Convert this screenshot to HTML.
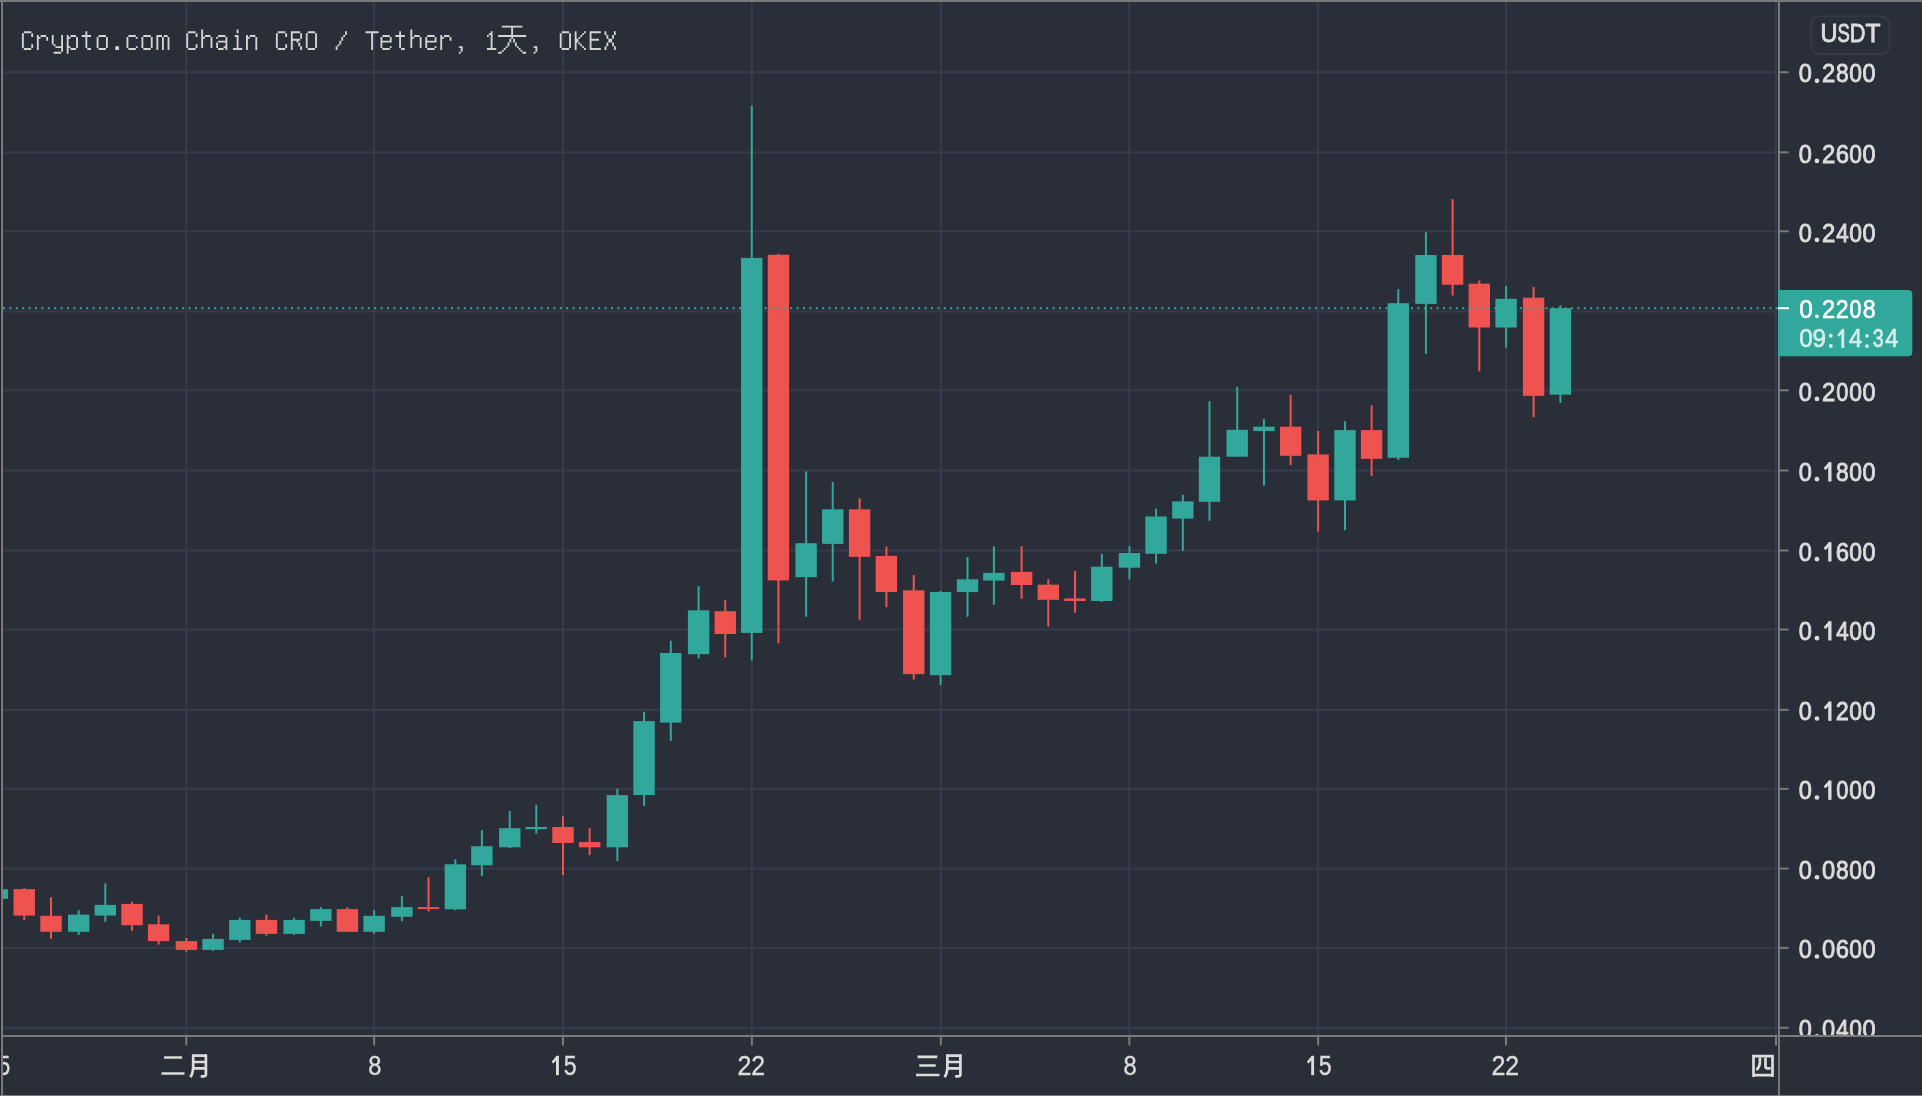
<!DOCTYPE html>
<html><head><meta charset="utf-8"><style>
html,body{margin:0;padding:0;background:#2a2e39;width:1922px;height:1096px;overflow:hidden}
svg{display:block;will-change:transform}
text{white-space:pre}
</style></head><body>
<svg width="1922" height="1096" viewBox="0 0 1922 1096">
<rect x="0" y="0" width="1922" height="1096" fill="#2a2e39"/>

<defs><clipPath id="plot"><rect x="3" y="2" width="1775" height="1033"/></clipPath><clipPath id="paxis"><rect x="1780" y="2" width="142" height="1033"/></clipPath></defs>
<g clip-path="url(#plot)">
<rect x="3" y="71.2" width="1775" height="2" fill="#363c4e"/>
<rect x="3" y="151.3" width="1775" height="2" fill="#363c4e"/>
<rect x="3" y="230.3" width="1775" height="2" fill="#363c4e"/>
<rect x="3" y="310.6" width="1775" height="2" fill="#363c4e"/>
<rect x="3" y="389.3" width="1775" height="2" fill="#363c4e"/>
<rect x="3" y="469.5" width="1775" height="2" fill="#363c4e"/>
<rect x="3" y="549.5" width="1775" height="2" fill="#363c4e"/>
<rect x="3" y="628.5" width="1775" height="2" fill="#363c4e"/>
<rect x="3" y="708.85" width="1775" height="2" fill="#363c4e"/>
<rect x="3" y="787.85" width="1775" height="2" fill="#363c4e"/>
<rect x="3" y="867.6" width="1775" height="2" fill="#363c4e"/>
<rect x="3" y="946.85" width="1775" height="2" fill="#363c4e"/>
<rect x="3" y="1026.76" width="1775" height="2" fill="#363c4e"/>
<rect x="185.33" y="2" width="2" height="1033" fill="#363c4e"/>
<rect x="373.15" y="2" width="2" height="1033" fill="#363c4e"/>
<rect x="561.96" y="2" width="2" height="1033" fill="#363c4e"/>
<rect x="750.87" y="2" width="2" height="1033" fill="#363c4e"/>
<rect x="939.78" y="2" width="2" height="1033" fill="#363c4e"/>
<rect x="1128.33" y="2" width="2" height="1033" fill="#363c4e"/>
<rect x="1317.15" y="2" width="2" height="1033" fill="#363c4e"/>
<rect x="1504.96" y="2" width="2" height="1033" fill="#363c4e"/>
<rect x="1775" y="2" width="2" height="1033" fill="#363c4e"/>
<rect x="-3.6" y="889.3" width="2" height="9.5" fill="#31a89b"/>
<rect x="-13.3" y="889.3" width="21.4" height="9.5" fill="#31a89b"/>
<rect x="23.25" y="888.1" width="2" height="31.8" fill="#ef5350"/>
<rect x="13.55" y="889.1" width="21.4" height="26.5" fill="#ef5350"/>
<rect x="50" y="897.2" width="2" height="41.7" fill="#ef5350"/>
<rect x="40.3" y="915.8" width="21.4" height="16" fill="#ef5350"/>
<rect x="77.7" y="910.2" width="2" height="24.7" fill="#31a89b"/>
<rect x="68" y="914.6" width="21.4" height="17.2" fill="#31a89b"/>
<rect x="104.3" y="883.5" width="2" height="38.3" fill="#31a89b"/>
<rect x="94.6" y="904.9" width="21.4" height="10.7" fill="#31a89b"/>
<rect x="131.05" y="901.8" width="2" height="29.1" fill="#ef5350"/>
<rect x="121.35" y="903.9" width="21.4" height="21.3" fill="#ef5350"/>
<rect x="157.6" y="915.6" width="2" height="29" fill="#ef5350"/>
<rect x="147.9" y="924.3" width="21.4" height="16.8" fill="#ef5350"/>
<rect x="185.4" y="938" width="2" height="13.8" fill="#ef5350"/>
<rect x="175.7" y="941.1" width="21.4" height="8.8" fill="#ef5350"/>
<rect x="212.05" y="933.9" width="2" height="17" fill="#31a89b"/>
<rect x="202.35" y="938.9" width="21.4" height="11" fill="#31a89b"/>
<rect x="238.8" y="917.7" width="2" height="24.7" fill="#31a89b"/>
<rect x="229.1" y="919.9" width="21.4" height="20" fill="#31a89b"/>
<rect x="265.45" y="914.6" width="2" height="21.2" fill="#ef5350"/>
<rect x="255.75" y="919.9" width="21.4" height="14" fill="#ef5350"/>
<rect x="293.15" y="917.7" width="2" height="17.2" fill="#31a89b"/>
<rect x="283.45" y="919.9" width="21.4" height="14" fill="#31a89b"/>
<rect x="319.85" y="907.1" width="2" height="19.3" fill="#31a89b"/>
<rect x="310.15" y="909.1" width="21.4" height="11.8" fill="#31a89b"/>
<rect x="346.4" y="907.1" width="2" height="24.7" fill="#ef5350"/>
<rect x="336.7" y="909.1" width="21.4" height="22.7" fill="#ef5350"/>
<rect x="373.1" y="910.2" width="2" height="23.7" fill="#31a89b"/>
<rect x="363.4" y="915.8" width="21.4" height="16" fill="#31a89b"/>
<rect x="400.9" y="896.2" width="2" height="25" fill="#31a89b"/>
<rect x="391.2" y="907.1" width="21.4" height="9.7" fill="#31a89b"/>
<rect x="427.55" y="877.1" width="2" height="34.3" fill="#ef5350"/>
<rect x="417.85" y="907.1" width="21.4" height="2" fill="#ef5350"/>
<rect x="454.35" y="859.2" width="2" height="51.1" fill="#31a89b"/>
<rect x="444.65" y="864.3" width="21.4" height="45" fill="#31a89b"/>
<rect x="480.9" y="830.2" width="2" height="45.9" fill="#31a89b"/>
<rect x="471.2" y="846.2" width="21.4" height="19.1" fill="#31a89b"/>
<rect x="508.75" y="811" width="2" height="37.3" fill="#31a89b"/>
<rect x="499.05" y="828.2" width="21.4" height="19.1" fill="#31a89b"/>
<rect x="535.3" y="804.7" width="2" height="28.9" fill="#31a89b"/>
<rect x="525.6" y="827" width="21.4" height="2.2" fill="#31a89b"/>
<rect x="562" y="816.4" width="2" height="58.8" fill="#ef5350"/>
<rect x="552.3" y="827" width="21.4" height="16" fill="#ef5350"/>
<rect x="588.65" y="828.2" width="2" height="26.9" fill="#ef5350"/>
<rect x="578.95" y="842" width="21.4" height="5.3" fill="#ef5350"/>
<rect x="616.35" y="788.7" width="2" height="72.4" fill="#31a89b"/>
<rect x="606.65" y="795.1" width="21.4" height="52.2" fill="#31a89b"/>
<rect x="643.05" y="711.9" width="2" height="94.2" fill="#31a89b"/>
<rect x="633.35" y="721.1" width="21.4" height="73.9" fill="#31a89b"/>
<rect x="669.8" y="640.7" width="2" height="100.1" fill="#31a89b"/>
<rect x="660.1" y="653" width="21.4" height="69.6" fill="#31a89b"/>
<rect x="697.6" y="586.1" width="2" height="72.4" fill="#31a89b"/>
<rect x="687.9" y="610.3" width="21.4" height="43.9" fill="#31a89b"/>
<rect x="724.25" y="599.7" width="2" height="57.6" fill="#ef5350"/>
<rect x="714.55" y="611.2" width="21.4" height="22.8" fill="#ef5350"/>
<rect x="750.75" y="105.5" width="2" height="555.1" fill="#31a89b"/>
<rect x="741.05" y="257.9" width="21.4" height="375" fill="#31a89b"/>
<rect x="777.45" y="253.9" width="2" height="389.4" fill="#ef5350"/>
<rect x="767.75" y="254.8" width="21.4" height="325.6" fill="#ef5350"/>
<rect x="805.1" y="471.4" width="2" height="145.4" fill="#31a89b"/>
<rect x="795.4" y="543.2" width="21.4" height="34" fill="#31a89b"/>
<rect x="831.75" y="481.9" width="2" height="99.6" fill="#31a89b"/>
<rect x="822.05" y="509.3" width="21.4" height="34.6" fill="#31a89b"/>
<rect x="858.6" y="498.3" width="2" height="121.5" fill="#ef5350"/>
<rect x="848.9" y="509.3" width="21.4" height="47.5" fill="#ef5350"/>
<rect x="885.4" y="546.5" width="2" height="60.6" fill="#ef5350"/>
<rect x="875.7" y="555.9" width="21.4" height="36.1" fill="#ef5350"/>
<rect x="912.75" y="574.9" width="2" height="104.7" fill="#ef5350"/>
<rect x="903.05" y="590.3" width="21.4" height="83.8" fill="#ef5350"/>
<rect x="939.6" y="590.9" width="2" height="94" fill="#31a89b"/>
<rect x="929.9" y="592" width="21.4" height="83.2" fill="#31a89b"/>
<rect x="966.5" y="557" width="2" height="59.8" fill="#31a89b"/>
<rect x="956.8" y="579.3" width="21.4" height="12.8" fill="#31a89b"/>
<rect x="992.9" y="546.3" width="2" height="58.5" fill="#31a89b"/>
<rect x="983.2" y="572.9" width="21.4" height="7.7" fill="#31a89b"/>
<rect x="1020.6" y="546.1" width="2" height="52.7" fill="#ef5350"/>
<rect x="1010.9" y="571.9" width="21.4" height="13.1" fill="#ef5350"/>
<rect x="1047.3" y="579.3" width="2" height="47.2" fill="#ef5350"/>
<rect x="1037.6" y="584.7" width="21.4" height="15.1" fill="#ef5350"/>
<rect x="1074.05" y="571" width="2" height="41.7" fill="#ef5350"/>
<rect x="1064.35" y="598.4" width="21.4" height="2.6" fill="#ef5350"/>
<rect x="1100.8" y="553.8" width="2" height="48.1" fill="#31a89b"/>
<rect x="1091.1" y="566.7" width="21.4" height="34.3" fill="#31a89b"/>
<rect x="1128.45" y="546.1" width="2" height="33.4" fill="#31a89b"/>
<rect x="1118.75" y="553" width="21.4" height="14.7" fill="#31a89b"/>
<rect x="1155.05" y="508.7" width="2" height="54.8" fill="#31a89b"/>
<rect x="1145.35" y="516.5" width="21.4" height="37.3" fill="#31a89b"/>
<rect x="1181.85" y="494.8" width="2" height="56" fill="#31a89b"/>
<rect x="1172.15" y="501.4" width="21.4" height="17.2" fill="#31a89b"/>
<rect x="1208.5" y="401.2" width="2" height="119.6" fill="#31a89b"/>
<rect x="1198.8" y="456.7" width="21.4" height="45.1" fill="#31a89b"/>
<rect x="1236.2" y="387" width="2" height="69.7" fill="#31a89b"/>
<rect x="1226.5" y="429.8" width="21.4" height="26.9" fill="#31a89b"/>
<rect x="1262.95" y="419.1" width="2" height="66.5" fill="#31a89b"/>
<rect x="1253.25" y="426.7" width="21.4" height="4.3" fill="#31a89b"/>
<rect x="1289.65" y="394.8" width="2" height="70.2" fill="#ef5350"/>
<rect x="1279.95" y="426.7" width="21.4" height="29.1" fill="#ef5350"/>
<rect x="1317.1" y="431" width="2" height="100.6" fill="#ef5350"/>
<rect x="1307.4" y="454.4" width="21.4" height="46" fill="#ef5350"/>
<rect x="1344" y="421.2" width="2" height="109" fill="#31a89b"/>
<rect x="1334.3" y="430.1" width="21.4" height="70.3" fill="#31a89b"/>
<rect x="1370.6" y="405.3" width="2" height="70.6" fill="#ef5350"/>
<rect x="1360.9" y="430.1" width="21.4" height="28.7" fill="#ef5350"/>
<rect x="1397.3" y="289.2" width="2" height="170.8" fill="#31a89b"/>
<rect x="1387.6" y="303.2" width="21.4" height="154.6" fill="#31a89b"/>
<rect x="1424.95" y="232.3" width="2" height="121.5" fill="#31a89b"/>
<rect x="1415.25" y="255" width="21.4" height="48.9" fill="#31a89b"/>
<rect x="1451.6" y="199.2" width="2" height="96.3" fill="#ef5350"/>
<rect x="1441.9" y="255" width="21.4" height="29.8" fill="#ef5350"/>
<rect x="1478.3" y="280.4" width="2" height="90.9" fill="#ef5350"/>
<rect x="1468.6" y="283.7" width="21.4" height="43.8" fill="#ef5350"/>
<rect x="1505.1" y="285.9" width="2" height="61.7" fill="#31a89b"/>
<rect x="1495.4" y="298.8" width="21.4" height="28.7" fill="#31a89b"/>
<rect x="1532.6" y="287" width="2" height="130.1" fill="#ef5350"/>
<rect x="1522.9" y="297.7" width="21.4" height="98.1" fill="#ef5350"/>
<rect x="1559.4" y="305.4" width="2" height="97.6" fill="#31a89b"/>
<rect x="1549.7" y="308.2" width="21.4" height="86.5" fill="#31a89b"/>
<line x1="3" y1="308.2" x2="1778" y2="308.2" stroke="#31a89b" stroke-width="2" stroke-dasharray="2 4.4"/>
</g>
<rect x="1778" y="2" width="2" height="1093" fill="#7a7a7a"/>
<rect x="3" y="1035" width="1919" height="2" fill="#7a7a7a"/>
<g clip-path="url(#paxis)">
<rect x="1780" y="71.2" width="8.7" height="2" fill="#7a7a7a"/>
<text transform="matrix(0.23592 0 0 0.25906 1798.819 82.488)" font-family="Liberation Sans" font-size="100" fill="#dcdcdc" stroke="#dcdcdc" stroke-width="3.5">0</text><circle cx="1816.95" cy="80.85" r="2.35" fill="#dcdcdc"/><text transform="matrix(0.23838 0 0 0.25906 1822.025 82.488)" font-family="Liberation Sans" font-size="100" fill="#dcdcdc" stroke="#dcdcdc" stroke-width="3.5">2</text><text transform="matrix(0.22772 0 0 0.25906 1835.988 82.488)" font-family="Liberation Sans" font-size="100" fill="#dcdcdc" stroke="#dcdcdc" stroke-width="3.5">8</text><text transform="matrix(0.22816 0 0 0.25906 1849.237 82.488)" font-family="Liberation Sans" font-size="100" fill="#dcdcdc" stroke="#dcdcdc" stroke-width="3.5">0</text><text transform="matrix(0.23398 0 0 0.25906 1862.624 82.488)" font-family="Liberation Sans" font-size="100" fill="#dcdcdc" stroke="#dcdcdc" stroke-width="3.5">0</text>
<rect x="1780" y="151.3" width="8.7" height="2" fill="#7a7a7a"/>
<text transform="matrix(0.23592 0 0 0.25906 1798.819 162.588)" font-family="Liberation Sans" font-size="100" fill="#dcdcdc" stroke="#dcdcdc" stroke-width="3.5">0</text><circle cx="1816.95" cy="160.95" r="2.35" fill="#dcdcdc"/><text transform="matrix(0.23838 0 0 0.25906 1822.025 162.588)" font-family="Liberation Sans" font-size="100" fill="#dcdcdc" stroke="#dcdcdc" stroke-width="3.5">2</text><text transform="matrix(0.23838 0 0 0.25906 1835.625 162.588)" font-family="Liberation Sans" font-size="100" fill="#dcdcdc" stroke="#dcdcdc" stroke-width="3.5">6</text><text transform="matrix(0.22816 0 0 0.25906 1849.237 162.588)" font-family="Liberation Sans" font-size="100" fill="#dcdcdc" stroke="#dcdcdc" stroke-width="3.5">0</text><text transform="matrix(0.23398 0 0 0.25906 1862.624 162.588)" font-family="Liberation Sans" font-size="100" fill="#dcdcdc" stroke="#dcdcdc" stroke-width="3.5">0</text>
<rect x="1780" y="230.3" width="8.7" height="2" fill="#7a7a7a"/>
<text transform="matrix(0.23592 0 0 0.25906 1798.819 241.588)" font-family="Liberation Sans" font-size="100" fill="#dcdcdc" stroke="#dcdcdc" stroke-width="3.5">0</text><circle cx="1816.95" cy="239.95" r="2.35" fill="#dcdcdc"/><text transform="matrix(0.23838 0 0 0.25906 1822.025 241.588)" font-family="Liberation Sans" font-size="100" fill="#dcdcdc" stroke="#dcdcdc" stroke-width="3.5">2</text><text transform="matrix(0.22385 0 0 0.25906 1836.144 241.588)" font-family="Liberation Sans" font-size="100" fill="#dcdcdc" stroke="#dcdcdc" stroke-width="3.5">4</text><text transform="matrix(0.22816 0 0 0.25906 1849.237 241.588)" font-family="Liberation Sans" font-size="100" fill="#dcdcdc" stroke="#dcdcdc" stroke-width="3.5">0</text><text transform="matrix(0.23398 0 0 0.25906 1862.624 241.588)" font-family="Liberation Sans" font-size="100" fill="#dcdcdc" stroke="#dcdcdc" stroke-width="3.5">0</text>
<rect x="1780" y="389.3" width="8.7" height="2" fill="#7a7a7a"/>
<text transform="matrix(0.23592 0 0 0.25906 1798.819 400.588)" font-family="Liberation Sans" font-size="100" fill="#dcdcdc" stroke="#dcdcdc" stroke-width="3.5">0</text><circle cx="1816.95" cy="398.95" r="2.35" fill="#dcdcdc"/><text transform="matrix(0.23838 0 0 0.25906 1822.025 400.588)" font-family="Liberation Sans" font-size="100" fill="#dcdcdc" stroke="#dcdcdc" stroke-width="3.5">2</text><text transform="matrix(0.21748 0 0 0.25906 1836.311 400.588)" font-family="Liberation Sans" font-size="100" fill="#dcdcdc" stroke="#dcdcdc" stroke-width="3.5">0</text><text transform="matrix(0.22816 0 0 0.25906 1849.237 400.588)" font-family="Liberation Sans" font-size="100" fill="#dcdcdc" stroke="#dcdcdc" stroke-width="3.5">0</text><text transform="matrix(0.23398 0 0 0.25906 1862.624 400.588)" font-family="Liberation Sans" font-size="100" fill="#dcdcdc" stroke="#dcdcdc" stroke-width="3.5">0</text>
<rect x="1780" y="469.5" width="8.7" height="2" fill="#7a7a7a"/>
<text transform="matrix(0.23592 0 0 0.25906 1798.819 480.788)" font-family="Liberation Sans" font-size="100" fill="#dcdcdc" stroke="#dcdcdc" stroke-width="3.5">0</text><circle cx="1816.95" cy="479.15" r="2.35" fill="#dcdcdc"/><path d="M1829.85,462.20 V481.50" stroke="#dcdcdc" stroke-width="3.3" fill="none"/><path d="M1829.52,463.80 L1825.45,468.18" stroke="#dcdcdc" stroke-width="2.90" stroke-linecap="round" fill="none"/><text transform="matrix(0.22772 0 0 0.25906 1835.988 480.788)" font-family="Liberation Sans" font-size="100" fill="#dcdcdc" stroke="#dcdcdc" stroke-width="3.5">8</text><text transform="matrix(0.22816 0 0 0.25906 1849.237 480.788)" font-family="Liberation Sans" font-size="100" fill="#dcdcdc" stroke="#dcdcdc" stroke-width="3.5">0</text><text transform="matrix(0.23398 0 0 0.25906 1862.624 480.788)" font-family="Liberation Sans" font-size="100" fill="#dcdcdc" stroke="#dcdcdc" stroke-width="3.5">0</text>
<rect x="1780" y="549.5" width="8.7" height="2" fill="#7a7a7a"/>
<text transform="matrix(0.23592 0 0 0.25906 1798.819 560.788)" font-family="Liberation Sans" font-size="100" fill="#dcdcdc" stroke="#dcdcdc" stroke-width="3.5">0</text><circle cx="1816.95" cy="559.15" r="2.35" fill="#dcdcdc"/><path d="M1829.85,542.20 V561.50" stroke="#dcdcdc" stroke-width="3.3" fill="none"/><path d="M1829.52,543.80 L1825.45,548.18" stroke="#dcdcdc" stroke-width="2.90" stroke-linecap="round" fill="none"/><text transform="matrix(0.23838 0 0 0.25906 1835.625 560.788)" font-family="Liberation Sans" font-size="100" fill="#dcdcdc" stroke="#dcdcdc" stroke-width="3.5">6</text><text transform="matrix(0.22816 0 0 0.25906 1849.237 560.788)" font-family="Liberation Sans" font-size="100" fill="#dcdcdc" stroke="#dcdcdc" stroke-width="3.5">0</text><text transform="matrix(0.23398 0 0 0.25906 1862.624 560.788)" font-family="Liberation Sans" font-size="100" fill="#dcdcdc" stroke="#dcdcdc" stroke-width="3.5">0</text>
<rect x="1780" y="628.5" width="8.7" height="2" fill="#7a7a7a"/>
<text transform="matrix(0.23592 0 0 0.25906 1798.819 639.788)" font-family="Liberation Sans" font-size="100" fill="#dcdcdc" stroke="#dcdcdc" stroke-width="3.5">0</text><circle cx="1816.95" cy="638.15" r="2.35" fill="#dcdcdc"/><path d="M1829.85,621.20 V640.50" stroke="#dcdcdc" stroke-width="3.3" fill="none"/><path d="M1829.52,622.80 L1825.45,627.18" stroke="#dcdcdc" stroke-width="2.90" stroke-linecap="round" fill="none"/><text transform="matrix(0.22385 0 0 0.25906 1836.144 639.788)" font-family="Liberation Sans" font-size="100" fill="#dcdcdc" stroke="#dcdcdc" stroke-width="3.5">4</text><text transform="matrix(0.22816 0 0 0.25906 1849.237 639.788)" font-family="Liberation Sans" font-size="100" fill="#dcdcdc" stroke="#dcdcdc" stroke-width="3.5">0</text><text transform="matrix(0.23398 0 0 0.25906 1862.624 639.788)" font-family="Liberation Sans" font-size="100" fill="#dcdcdc" stroke="#dcdcdc" stroke-width="3.5">0</text>
<rect x="1780" y="708.85" width="8.7" height="2" fill="#7a7a7a"/>
<text transform="matrix(0.23592 0 0 0.25906 1798.819 720.138)" font-family="Liberation Sans" font-size="100" fill="#dcdcdc" stroke="#dcdcdc" stroke-width="3.5">0</text><circle cx="1816.95" cy="718.50" r="2.35" fill="#dcdcdc"/><path d="M1829.85,701.55 V720.85" stroke="#dcdcdc" stroke-width="3.3" fill="none"/><path d="M1829.52,703.15 L1825.45,707.53" stroke="#dcdcdc" stroke-width="2.90" stroke-linecap="round" fill="none"/><text transform="matrix(0.23434 0 0 0.25906 1835.738 720.138)" font-family="Liberation Sans" font-size="100" fill="#dcdcdc" stroke="#dcdcdc" stroke-width="3.5">2</text><text transform="matrix(0.22816 0 0 0.25906 1849.237 720.138)" font-family="Liberation Sans" font-size="100" fill="#dcdcdc" stroke="#dcdcdc" stroke-width="3.5">0</text><text transform="matrix(0.23398 0 0 0.25906 1862.624 720.138)" font-family="Liberation Sans" font-size="100" fill="#dcdcdc" stroke="#dcdcdc" stroke-width="3.5">0</text>
<rect x="1780" y="787.85" width="8.7" height="2" fill="#7a7a7a"/>
<text transform="matrix(0.23592 0 0 0.25906 1798.819 799.138)" font-family="Liberation Sans" font-size="100" fill="#dcdcdc" stroke="#dcdcdc" stroke-width="3.5">0</text><circle cx="1816.95" cy="797.50" r="2.35" fill="#dcdcdc"/><path d="M1829.85,780.55 V799.85" stroke="#dcdcdc" stroke-width="3.3" fill="none"/><path d="M1829.52,782.15 L1825.45,786.53" stroke="#dcdcdc" stroke-width="2.90" stroke-linecap="round" fill="none"/><text transform="matrix(0.21748 0 0 0.25906 1836.311 799.138)" font-family="Liberation Sans" font-size="100" fill="#dcdcdc" stroke="#dcdcdc" stroke-width="3.5">0</text><text transform="matrix(0.22816 0 0 0.25906 1849.237 799.138)" font-family="Liberation Sans" font-size="100" fill="#dcdcdc" stroke="#dcdcdc" stroke-width="3.5">0</text><text transform="matrix(0.23398 0 0 0.25906 1862.624 799.138)" font-family="Liberation Sans" font-size="100" fill="#dcdcdc" stroke="#dcdcdc" stroke-width="3.5">0</text>
<rect x="1780" y="867.6" width="8.7" height="2" fill="#7a7a7a"/>
<text transform="matrix(0.23592 0 0 0.25906 1798.819 878.888)" font-family="Liberation Sans" font-size="100" fill="#dcdcdc" stroke="#dcdcdc" stroke-width="3.5">0</text><circle cx="1816.95" cy="877.25" r="2.35" fill="#dcdcdc"/><text transform="matrix(0.23689 0 0 0.25906 1822.067 878.888)" font-family="Liberation Sans" font-size="100" fill="#dcdcdc" stroke="#dcdcdc" stroke-width="3.5">0</text><text transform="matrix(0.22772 0 0 0.25906 1835.988 878.888)" font-family="Liberation Sans" font-size="100" fill="#dcdcdc" stroke="#dcdcdc" stroke-width="3.5">8</text><text transform="matrix(0.22816 0 0 0.25906 1849.237 878.888)" font-family="Liberation Sans" font-size="100" fill="#dcdcdc" stroke="#dcdcdc" stroke-width="3.5">0</text><text transform="matrix(0.23398 0 0 0.25906 1862.624 878.888)" font-family="Liberation Sans" font-size="100" fill="#dcdcdc" stroke="#dcdcdc" stroke-width="3.5">0</text>
<rect x="1780" y="946.85" width="8.7" height="2" fill="#7a7a7a"/>
<text transform="matrix(0.23592 0 0 0.25906 1798.819 958.138)" font-family="Liberation Sans" font-size="100" fill="#dcdcdc" stroke="#dcdcdc" stroke-width="3.5">0</text><circle cx="1816.95" cy="956.50" r="2.35" fill="#dcdcdc"/><text transform="matrix(0.23689 0 0 0.25906 1822.067 958.138)" font-family="Liberation Sans" font-size="100" fill="#dcdcdc" stroke="#dcdcdc" stroke-width="3.5">0</text><text transform="matrix(0.23838 0 0 0.25906 1835.625 958.138)" font-family="Liberation Sans" font-size="100" fill="#dcdcdc" stroke="#dcdcdc" stroke-width="3.5">6</text><text transform="matrix(0.22816 0 0 0.25906 1849.237 958.138)" font-family="Liberation Sans" font-size="100" fill="#dcdcdc" stroke="#dcdcdc" stroke-width="3.5">0</text><text transform="matrix(0.23398 0 0 0.25906 1862.624 958.138)" font-family="Liberation Sans" font-size="100" fill="#dcdcdc" stroke="#dcdcdc" stroke-width="3.5">0</text>
<rect x="1780" y="1026.76" width="8.7" height="2" fill="#7a7a7a"/>
<text transform="matrix(0.23592 0 0 0.25906 1798.819 1038.048)" font-family="Liberation Sans" font-size="100" fill="#dcdcdc" stroke="#dcdcdc" stroke-width="3.5">0</text><circle cx="1816.95" cy="1036.41" r="2.35" fill="#dcdcdc"/><text transform="matrix(0.23689 0 0 0.25906 1822.067 1038.048)" font-family="Liberation Sans" font-size="100" fill="#dcdcdc" stroke="#dcdcdc" stroke-width="3.5">0</text><text transform="matrix(0.22385 0 0 0.25906 1836.144 1038.048)" font-family="Liberation Sans" font-size="100" fill="#dcdcdc" stroke="#dcdcdc" stroke-width="3.5">4</text><text transform="matrix(0.22816 0 0 0.25906 1849.237 1038.048)" font-family="Liberation Sans" font-size="100" fill="#dcdcdc" stroke="#dcdcdc" stroke-width="3.5">0</text><text transform="matrix(0.23398 0 0 0.25906 1862.624 1038.048)" font-family="Liberation Sans" font-size="100" fill="#dcdcdc" stroke="#dcdcdc" stroke-width="3.5">0</text>
</g>
<rect x="185.33" y="1037" width="2" height="8.6" fill="#7a7a7a"/>
<rect x="373.15" y="1037" width="2" height="8.6" fill="#7a7a7a"/>
<rect x="561.96" y="1037" width="2" height="8.6" fill="#7a7a7a"/>
<rect x="750.87" y="1037" width="2" height="8.6" fill="#7a7a7a"/>
<rect x="939.78" y="1037" width="2" height="8.6" fill="#7a7a7a"/>
<rect x="1128.33" y="1037" width="2" height="8.6" fill="#7a7a7a"/>
<rect x="1317.15" y="1037" width="2" height="8.6" fill="#7a7a7a"/>
<rect x="1504.96" y="1037" width="2" height="8.6" fill="#7a7a7a"/>
<rect x="1775" y="1037" width="2" height="8.6" fill="#7a7a7a"/>
<text transform="matrix(0.23711 0 0 0.26759 368.229 1074.732)" font-family="Liberation Sans" font-size="100" fill="#dcdcdc" stroke="#dcdcdc" stroke-width="1.5">8</text>
<path d="M557.45,1055.80 V1075.20" stroke="#dcdcdc" stroke-width="2.9" fill="none"/><path d="M557.16,1057.20 L553.18,1061.81" stroke="#dcdcdc" stroke-width="2.55" stroke-linecap="round" fill="none"/><text transform="matrix(0.23093 0 0 0.26759 563.649 1074.732)" font-family="Liberation Sans" font-size="100" fill="#dcdcdc" stroke="#dcdcdc" stroke-width="1.5">5</text>
<text transform="matrix(0.25053 0 0 0.26759 737.435 1074.732)" font-family="Liberation Sans" font-size="100" fill="#dcdcdc" stroke="#dcdcdc" stroke-width="1.5">2</text><text transform="matrix(0.24842 0 0 0.26759 751.244 1074.732)" font-family="Liberation Sans" font-size="100" fill="#dcdcdc" stroke="#dcdcdc" stroke-width="1.5">2</text>
<text transform="matrix(0.23711 0 0 0.26759 1123.409 1074.732)" font-family="Liberation Sans" font-size="100" fill="#dcdcdc" stroke="#dcdcdc" stroke-width="1.5">8</text>
<path d="M1312.64,1055.80 V1075.20" stroke="#dcdcdc" stroke-width="2.9" fill="none"/><path d="M1312.35,1057.20 L1308.37,1061.81" stroke="#dcdcdc" stroke-width="2.55" stroke-linecap="round" fill="none"/><text transform="matrix(0.23093 0 0 0.26759 1318.839 1074.732)" font-family="Liberation Sans" font-size="100" fill="#dcdcdc" stroke="#dcdcdc" stroke-width="1.5">5</text>
<text transform="matrix(0.25053 0 0 0.26759 1491.525 1074.732)" font-family="Liberation Sans" font-size="100" fill="#dcdcdc" stroke="#dcdcdc" stroke-width="1.5">2</text><text transform="matrix(0.24842 0 0 0.26759 1505.334 1074.732)" font-family="Liberation Sans" font-size="100" fill="#dcdcdc" stroke="#dcdcdc" stroke-width="1.5">2</text>
<text transform="matrix(0.25053 0 0 0.26759 -16.915 1074.732)" font-family="Liberation Sans" font-size="100" fill="#dcdcdc" stroke="#dcdcdc" stroke-width="1.5">2</text><text transform="matrix(0.22474 0 0 0.26759 -2.210 1074.732)" font-family="Liberation Sans" font-size="100" fill="#dcdcdc" stroke="#dcdcdc" stroke-width="1.5">5</text>
<g fill="none" stroke="#dcdcdc" stroke-width="2.7">
<path d="M164.1,1057.5 H182.1 M161.5,1073.5 H184.5"/>
<path d="M193.2,1054.3 V1066 Q193.2,1073.5 190.3,1077.2" /><path d="M193.2,1055.6 H205.9 M193.2,1062 H205.9 M193.2,1068.4 H205.9" /><path d="M205.9,1054.3 V1074.6 Q205.9,1076.3 204.1,1076.3 H200.7" />
<path d="M917.6,1056.8 H937.3 M919.2,1065.5 H935.7 M916,1075 H939.5"/>
<path d="M947.4,1054.3 V1066 Q947.4,1073.5 944.5,1077.2" /><path d="M947.4,1055.6 H960.4 M947.4,1062 H960.4 M947.4,1068.4 H960.4" /><path d="M960.4,1054.3 V1074.6 Q960.4,1076.3 958.6,1076.3 H955.2" />
<path d="M1753.5,1054.9 V1077 M1772.5,1054.9 V1077 M1752.2,1056.1 H1773.8 M1753.5,1075.2 H1772.5"/>
<path d="M1759.9,1057.4 V1062.5 Q1759.6,1067.5 1756.4,1070"/>
<path d="M1765.5,1057.4 V1066.6 Q1765.5,1068.4 1767.5,1068.4 H1770.7"/>
</g>
<rect x="1811.4" y="16.2" width="78.1" height="37.8" rx="8" ry="8" fill="none" stroke="#363a45" stroke-width="2"/>
<text transform="matrix(0.23529 0 0 0.26174 1820.429 42.080)" font-family="Liberation Sans" font-size="100" fill="#dcdcdc" stroke="#dcdcdc" stroke-width="3.5">U</text><text transform="matrix(0.18512 0 0 0.26174 1837.398 42.080)" font-family="Liberation Sans" font-size="100" fill="#dcdcdc" stroke="#dcdcdc" stroke-width="3.5">S</text><text transform="matrix(0.21760 0 0 0.26174 1849.840 42.080)" font-family="Liberation Sans" font-size="100" fill="#dcdcdc" stroke="#dcdcdc" stroke-width="3.5">D</text><text transform="matrix(0.24463 0 0 0.26174 1865.539 42.080)" font-family="Liberation Sans" font-size="100" fill="#dcdcdc" stroke="#dcdcdc" stroke-width="3.5">T</text>
<path d="M1778,289.9 H1908.3 Q1912.3,289.9 1912.3,293.9 V352.3 Q1912.3,356.3 1908.3,356.3 H1778 Z" fill="#31a89b"/>
<rect x="1778" y="307.2" width="11" height="2" fill="#ffffff"/>
<text transform="matrix(0.24356 0 0 0.25714 1799.230 317.621)" font-family="Liberation Sans" font-size="100" fill="#ffffff" stroke="#ffffff" stroke-width="2.5">0</text><circle cx="1816.90" cy="316.30" r="1.90" fill="#ffffff"/><text transform="matrix(0.23711 0 0 0.25714 1822.111 317.621)" font-family="Liberation Sans" font-size="100" fill="#ffffff" stroke="#ffffff" stroke-width="2.5">2</text><text transform="matrix(0.23093 0 0 0.25714 1835.634 317.621)" font-family="Liberation Sans" font-size="100" fill="#ffffff" stroke="#ffffff" stroke-width="2.5">2</text><text transform="matrix(0.21386 0 0 0.25714 1849.412 317.621)" font-family="Liberation Sans" font-size="100" fill="#ffffff" stroke="#ffffff" stroke-width="2.5">0</text><text transform="matrix(0.23232 0 0 0.25714 1862.761 317.621)" font-family="Liberation Sans" font-size="100" fill="#ffffff" stroke="#ffffff" stroke-width="2.5">8</text>
<text transform="matrix(0.24356 0 0 0.25714 1799.230 347.421)" font-family="Liberation Sans" font-size="100" fill="#d4eeeb" stroke="#d4eeeb" stroke-width="2.5">0</text><text transform="matrix(0.24330 0 0 0.25714 1812.388 347.421)" font-family="Liberation Sans" font-size="100" fill="#d4eeeb" stroke="#d4eeeb" stroke-width="2.5">9</text><circle cx="1830.80" cy="346.00" r="2.00" fill="#d4eeeb"/><circle cx="1830.80" cy="335.64" r="2.00" fill="#d4eeeb"/><path d="M1842.80,329.10 V348.00" stroke="#d4eeeb" stroke-width="2.8" fill="none"/><path d="M1842.52,330.46 L1838.83,334.96" stroke="#d4eeeb" stroke-width="2.46" stroke-linecap="round" fill="none"/><text transform="matrix(0.23551 0 0 0.25714 1848.923 347.421)" font-family="Liberation Sans" font-size="100" fill="#d4eeeb" stroke="#d4eeeb" stroke-width="2.5">4</text><circle cx="1866.95" cy="346.15" r="1.85" fill="#d4eeeb"/><circle cx="1866.95" cy="335.79" r="1.85" fill="#d4eeeb"/><text transform="matrix(0.19798 0 0 0.25714 1872.856 347.421)" font-family="Liberation Sans" font-size="100" fill="#d4eeeb" stroke="#d4eeeb" stroke-width="2.5">3</text><text transform="matrix(0.23551 0 0 0.25714 1885.223 347.421)" font-family="Liberation Sans" font-size="100" fill="#d4eeeb" stroke="#d4eeeb" stroke-width="2.5">4</text>
<path d="M23.79,31.30h7.47v1.87h-7.47zM21.93,33.17h1.87v1.87h-1.87zM31.27,33.17h1.87v1.87h-1.87zM21.93,35.04h1.87v1.87h-1.87zM31.27,35.04h1.87v1.87h-1.87zM21.93,36.90h1.87v1.87h-1.87zM21.93,38.77h1.87v1.87h-1.87zM21.93,40.64h1.87v1.87h-1.87zM21.93,42.51h1.87v1.87h-1.87zM21.93,44.37h1.87v1.87h-1.87zM31.27,44.37h1.87v1.87h-1.87zM21.93,46.24h1.87v1.87h-1.87zM31.27,46.24h1.87v1.87h-1.87zM23.79,48.11h7.47v1.87h-7.47zM36.87,35.04h1.87v1.87h-1.87zM40.60,35.04h5.60v1.87h-5.60zM36.87,36.90h3.73v1.87h-3.73zM46.20,36.90h1.87v1.87h-1.87zM36.87,38.77h1.87v1.87h-1.87zM46.20,38.77h1.87v1.87h-1.87zM36.87,40.64h1.87v1.87h-1.87zM36.87,42.51h1.87v1.87h-1.87zM36.87,44.37h1.87v1.87h-1.87zM36.87,46.24h1.87v1.87h-1.87zM36.87,48.11h1.87v1.87h-1.87zM51.81,35.04h1.87v1.87h-1.87zM61.14,35.04h1.87v1.87h-1.87zM51.81,36.90h1.87v1.87h-1.87zM61.14,36.90h1.87v1.87h-1.87zM51.81,38.77h1.87v1.87h-1.87zM61.14,38.77h1.87v1.87h-1.87zM51.81,40.64h1.87v1.87h-1.87zM61.14,40.64h1.87v1.87h-1.87zM51.81,42.51h1.87v1.87h-1.87zM61.14,42.51h1.87v1.87h-1.87zM53.67,44.37h1.87v1.87h-1.87zM61.14,44.37h1.87v1.87h-1.87zM55.54,46.24h7.47v1.87h-7.47zM61.14,48.11h1.87v1.87h-1.87zM61.14,49.98h1.87v1.87h-1.87zM53.67,51.84h7.47v1.87h-7.47zM66.75,35.04h1.87v1.87h-1.87zM70.48,35.04h5.60v1.87h-5.60zM66.75,36.90h3.73v1.87h-3.73zM76.08,36.90h1.87v1.87h-1.87zM66.75,38.77h1.87v1.87h-1.87zM76.08,38.77h1.87v1.87h-1.87zM66.75,40.64h1.87v1.87h-1.87zM76.08,40.64h1.87v1.87h-1.87zM66.75,42.51h1.87v1.87h-1.87zM76.08,42.51h1.87v1.87h-1.87zM66.75,44.37h1.87v1.87h-1.87zM76.08,44.37h1.87v1.87h-1.87zM66.75,46.24h3.73v1.87h-3.73zM76.08,46.24h1.87v1.87h-1.87zM66.75,48.11h1.87v1.87h-1.87zM70.48,48.11h5.60v1.87h-5.60zM66.75,49.98h1.87v1.87h-1.87zM66.75,51.84h1.87v1.87h-1.87zM85.42,31.30h1.87v1.87h-1.87zM85.42,33.17h1.87v1.87h-1.87zM81.69,35.04h9.34v1.87h-9.34zM85.42,36.90h1.87v1.87h-1.87zM85.42,38.77h1.87v1.87h-1.87zM85.42,40.64h1.87v1.87h-1.87zM85.42,42.51h1.87v1.87h-1.87zM85.42,44.37h1.87v1.87h-1.87zM85.42,46.24h1.87v1.87h-1.87zM87.29,48.11h3.73v1.87h-3.73zM98.50,35.04h7.47v1.87h-7.47zM96.63,36.90h1.87v1.87h-1.87zM105.97,36.90h1.87v1.87h-1.87zM96.63,38.77h1.87v1.87h-1.87zM105.97,38.77h1.87v1.87h-1.87zM96.63,40.64h1.87v1.87h-1.87zM105.97,40.64h1.87v1.87h-1.87zM96.63,42.51h1.87v1.87h-1.87zM105.97,42.51h1.87v1.87h-1.87zM96.63,44.37h1.87v1.87h-1.87zM105.97,44.37h1.87v1.87h-1.87zM96.63,46.24h1.87v1.87h-1.87zM105.97,46.24h1.87v1.87h-1.87zM98.50,48.11h7.47v1.87h-7.47zM115.30,46.24h3.73v1.87h-3.73zM115.30,48.11h3.73v1.87h-3.73zM128.38,35.04h7.47v1.87h-7.47zM126.51,36.90h1.87v1.87h-1.87zM135.84,36.90h1.87v1.87h-1.87zM126.51,38.77h1.87v1.87h-1.87zM126.51,40.64h1.87v1.87h-1.87zM126.51,42.51h1.87v1.87h-1.87zM126.51,44.37h1.87v1.87h-1.87zM126.51,46.24h1.87v1.87h-1.87zM135.84,46.24h1.87v1.87h-1.87zM128.38,48.11h7.47v1.87h-7.47zM143.31,35.04h7.47v1.87h-7.47zM141.45,36.90h1.87v1.87h-1.87zM150.78,36.90h1.87v1.87h-1.87zM141.45,38.77h1.87v1.87h-1.87zM150.78,38.77h1.87v1.87h-1.87zM141.45,40.64h1.87v1.87h-1.87zM150.78,40.64h1.87v1.87h-1.87zM141.45,42.51h1.87v1.87h-1.87zM150.78,42.51h1.87v1.87h-1.87zM141.45,44.37h1.87v1.87h-1.87zM150.78,44.37h1.87v1.87h-1.87zM141.45,46.24h1.87v1.87h-1.87zM150.78,46.24h1.87v1.87h-1.87zM143.31,48.11h7.47v1.87h-7.47zM156.39,35.04h5.60v1.87h-5.60zM163.86,35.04h3.73v1.87h-3.73zM156.39,36.90h1.87v1.87h-1.87zM161.99,36.90h1.87v1.87h-1.87zM167.59,36.90h1.87v1.87h-1.87zM156.39,38.77h1.87v1.87h-1.87zM161.99,38.77h1.87v1.87h-1.87zM167.59,38.77h1.87v1.87h-1.87zM156.39,40.64h1.87v1.87h-1.87zM161.99,40.64h1.87v1.87h-1.87zM167.59,40.64h1.87v1.87h-1.87zM156.39,42.51h1.87v1.87h-1.87zM161.99,42.51h1.87v1.87h-1.87zM167.59,42.51h1.87v1.87h-1.87zM156.39,44.37h1.87v1.87h-1.87zM161.99,44.37h1.87v1.87h-1.87zM167.59,44.37h1.87v1.87h-1.87zM156.39,46.24h1.87v1.87h-1.87zM161.99,46.24h1.87v1.87h-1.87zM167.59,46.24h1.87v1.87h-1.87zM156.39,48.11h1.87v1.87h-1.87zM161.99,48.11h1.87v1.87h-1.87zM167.59,48.11h1.87v1.87h-1.87zM188.13,31.30h7.47v1.87h-7.47zM186.27,33.17h1.87v1.87h-1.87zM195.60,33.17h1.87v1.87h-1.87zM186.27,35.04h1.87v1.87h-1.87zM195.60,35.04h1.87v1.87h-1.87zM186.27,36.90h1.87v1.87h-1.87zM186.27,38.77h1.87v1.87h-1.87zM186.27,40.64h1.87v1.87h-1.87zM186.27,42.51h1.87v1.87h-1.87zM186.27,44.37h1.87v1.87h-1.87zM195.60,44.37h1.87v1.87h-1.87zM186.27,46.24h1.87v1.87h-1.87zM195.60,46.24h1.87v1.87h-1.87zM188.13,48.11h7.47v1.87h-7.47zM201.21,29.43h1.87v1.87h-1.87zM201.21,31.30h1.87v1.87h-1.87zM201.21,33.17h1.87v1.87h-1.87zM201.21,35.04h1.87v1.87h-1.87zM204.94,35.04h5.60v1.87h-5.60zM201.21,36.90h3.73v1.87h-3.73zM210.54,36.90h1.87v1.87h-1.87zM201.21,38.77h1.87v1.87h-1.87zM210.54,38.77h1.87v1.87h-1.87zM201.21,40.64h1.87v1.87h-1.87zM210.54,40.64h1.87v1.87h-1.87zM201.21,42.51h1.87v1.87h-1.87zM210.54,42.51h1.87v1.87h-1.87zM201.21,44.37h1.87v1.87h-1.87zM210.54,44.37h1.87v1.87h-1.87zM201.21,46.24h1.87v1.87h-1.87zM210.54,46.24h1.87v1.87h-1.87zM218.01,35.04h7.47v1.87h-7.47zM216.15,36.90h1.87v1.87h-1.87zM225.48,36.90h1.87v1.87h-1.87zM225.48,38.77h1.87v1.87h-1.87zM218.01,40.64h9.34v1.87h-9.34zM216.15,42.51h1.87v1.87h-1.87zM225.48,42.51h1.87v1.87h-1.87zM216.15,44.37h1.87v1.87h-1.87zM225.48,44.37h1.87v1.87h-1.87zM216.15,46.24h1.87v1.87h-1.87zM223.62,46.24h3.73v1.87h-3.73zM218.01,48.11h5.60v1.87h-5.60zM225.48,48.11h1.87v1.87h-1.87zM236.69,29.43h1.87v1.87h-1.87zM236.69,31.30h1.87v1.87h-1.87zM234.82,35.04h3.73v1.87h-3.73zM236.69,36.90h1.87v1.87h-1.87zM236.69,38.77h1.87v1.87h-1.87zM236.69,40.64h1.87v1.87h-1.87zM236.69,42.51h1.87v1.87h-1.87zM236.69,44.37h1.87v1.87h-1.87zM236.69,46.24h1.87v1.87h-1.87zM232.95,48.11h9.34v1.87h-9.34zM246.03,35.04h1.87v1.87h-1.87zM249.76,35.04h5.60v1.87h-5.60zM246.03,36.90h3.73v1.87h-3.73zM255.36,36.90h1.87v1.87h-1.87zM246.03,38.77h1.87v1.87h-1.87zM255.36,38.77h1.87v1.87h-1.87zM246.03,40.64h1.87v1.87h-1.87zM255.36,40.64h1.87v1.87h-1.87zM246.03,42.51h1.87v1.87h-1.87zM255.36,42.51h1.87v1.87h-1.87zM246.03,44.37h1.87v1.87h-1.87zM255.36,44.37h1.87v1.87h-1.87zM246.03,46.24h1.87v1.87h-1.87zM255.36,46.24h1.87v1.87h-1.87zM246.03,48.11h1.87v1.87h-1.87zM255.36,48.11h1.87v1.87h-1.87zM277.77,31.30h7.47v1.87h-7.47zM275.91,33.17h1.87v1.87h-1.87zM285.25,33.17h1.87v1.87h-1.87zM275.91,35.04h1.87v1.87h-1.87zM285.25,35.04h1.87v1.87h-1.87zM275.91,36.90h1.87v1.87h-1.87zM275.91,38.77h1.87v1.87h-1.87zM275.91,40.64h1.87v1.87h-1.87zM275.91,42.51h1.87v1.87h-1.87zM275.91,44.37h1.87v1.87h-1.87zM285.25,44.37h1.87v1.87h-1.87zM275.91,46.24h1.87v1.87h-1.87zM285.25,46.24h1.87v1.87h-1.87zM277.77,48.11h7.47v1.87h-7.47zM290.85,31.30h9.34v1.87h-9.34zM290.85,33.17h1.87v1.87h-1.87zM300.19,33.17h1.87v1.87h-1.87zM290.85,35.04h1.87v1.87h-1.87zM300.19,35.04h1.87v1.87h-1.87zM290.85,36.90h1.87v1.87h-1.87zM300.19,36.90h1.87v1.87h-1.87zM290.85,38.77h9.34v1.87h-9.34zM290.85,40.64h1.87v1.87h-1.87zM296.45,40.64h1.87v1.87h-1.87zM290.85,42.51h1.87v1.87h-1.87zM298.32,42.51h1.87v1.87h-1.87zM290.85,44.37h1.87v1.87h-1.87zM298.32,44.37h1.87v1.87h-1.87zM290.85,46.24h1.87v1.87h-1.87zM300.19,46.24h1.87v1.87h-1.87zM290.85,48.11h1.87v1.87h-1.87zM300.19,48.11h1.87v1.87h-1.87zM307.65,31.30h7.47v1.87h-7.47zM305.79,33.17h1.87v1.87h-1.87zM315.12,33.17h1.87v1.87h-1.87zM305.79,35.04h1.87v1.87h-1.87zM315.12,35.04h1.87v1.87h-1.87zM305.79,36.90h1.87v1.87h-1.87zM315.12,36.90h1.87v1.87h-1.87zM305.79,38.77h1.87v1.87h-1.87zM315.12,38.77h1.87v1.87h-1.87zM305.79,40.64h1.87v1.87h-1.87zM315.12,40.64h1.87v1.87h-1.87zM305.79,42.51h1.87v1.87h-1.87zM315.12,42.51h1.87v1.87h-1.87zM305.79,44.37h1.87v1.87h-1.87zM315.12,44.37h1.87v1.87h-1.87zM305.79,46.24h1.87v1.87h-1.87zM315.12,46.24h1.87v1.87h-1.87zM307.65,48.11h7.47v1.87h-7.47zM345.00,31.30h1.87v1.87h-1.87zM345.00,33.17h1.87v1.87h-1.87zM343.14,35.04h1.87v1.87h-1.87zM341.27,36.90h1.87v1.87h-1.87zM341.27,38.77h1.87v1.87h-1.87zM339.40,40.64h1.87v1.87h-1.87zM339.40,42.51h1.87v1.87h-1.87zM337.53,44.37h1.87v1.87h-1.87zM335.67,46.24h1.87v1.87h-1.87zM335.67,48.11h1.87v1.87h-1.87zM365.55,31.30h13.07v1.87h-13.07zM371.15,33.17h1.87v1.87h-1.87zM371.15,35.04h1.87v1.87h-1.87zM371.15,36.90h1.87v1.87h-1.87zM371.15,38.77h1.87v1.87h-1.87zM371.15,40.64h1.87v1.87h-1.87zM371.15,42.51h1.87v1.87h-1.87zM371.15,44.37h1.87v1.87h-1.87zM371.15,46.24h1.87v1.87h-1.87zM371.15,48.11h1.87v1.87h-1.87zM382.36,35.04h7.47v1.87h-7.47zM380.49,36.90h1.87v1.87h-1.87zM389.82,36.90h1.87v1.87h-1.87zM380.49,38.77h1.87v1.87h-1.87zM389.82,38.77h1.87v1.87h-1.87zM380.49,40.64h11.21v1.87h-11.21zM380.49,42.51h1.87v1.87h-1.87zM380.49,44.37h1.87v1.87h-1.87zM380.49,46.24h1.87v1.87h-1.87zM389.82,46.24h1.87v1.87h-1.87zM382.36,48.11h7.47v1.87h-7.47zM399.16,31.30h1.87v1.87h-1.87zM399.16,33.17h1.87v1.87h-1.87zM395.43,35.04h9.34v1.87h-9.34zM399.16,36.90h1.87v1.87h-1.87zM399.16,38.77h1.87v1.87h-1.87zM399.16,40.64h1.87v1.87h-1.87zM399.16,42.51h1.87v1.87h-1.87zM399.16,44.37h1.87v1.87h-1.87zM399.16,46.24h1.87v1.87h-1.87zM401.03,48.11h3.73v1.87h-3.73zM410.37,29.43h1.87v1.87h-1.87zM410.37,31.30h1.87v1.87h-1.87zM410.37,33.17h1.87v1.87h-1.87zM410.37,35.04h1.87v1.87h-1.87zM414.10,35.04h5.60v1.87h-5.60zM410.37,36.90h3.73v1.87h-3.73zM419.70,36.90h1.87v1.87h-1.87zM410.37,38.77h1.87v1.87h-1.87zM419.70,38.77h1.87v1.87h-1.87zM410.37,40.64h1.87v1.87h-1.87zM419.70,40.64h1.87v1.87h-1.87zM410.37,42.51h1.87v1.87h-1.87zM419.70,42.51h1.87v1.87h-1.87zM410.37,44.37h1.87v1.87h-1.87zM419.70,44.37h1.87v1.87h-1.87zM410.37,46.24h1.87v1.87h-1.87zM419.70,46.24h1.87v1.87h-1.87zM427.18,35.04h7.47v1.87h-7.47zM425.31,36.90h1.87v1.87h-1.87zM434.64,36.90h1.87v1.87h-1.87zM425.31,38.77h1.87v1.87h-1.87zM434.64,38.77h1.87v1.87h-1.87zM425.31,40.64h11.21v1.87h-11.21zM425.31,42.51h1.87v1.87h-1.87zM425.31,44.37h1.87v1.87h-1.87zM425.31,46.24h1.87v1.87h-1.87zM434.64,46.24h1.87v1.87h-1.87zM427.18,48.11h7.47v1.87h-7.47zM440.25,35.04h1.87v1.87h-1.87zM443.98,35.04h5.60v1.87h-5.60zM440.25,36.90h3.73v1.87h-3.73zM449.58,36.90h1.87v1.87h-1.87zM440.25,38.77h1.87v1.87h-1.87zM449.58,38.77h1.87v1.87h-1.87zM440.25,40.64h1.87v1.87h-1.87zM440.25,42.51h1.87v1.87h-1.87zM440.25,44.37h1.87v1.87h-1.87zM440.25,46.24h1.87v1.87h-1.87zM440.25,48.11h1.87v1.87h-1.87zM458.92,46.24h3.73v1.87h-3.73zM460.79,48.11h1.87v1.87h-1.87zM460.79,49.98h1.87v1.87h-1.87zM458.92,51.84h1.87v1.87h-1.87zM490.67,31.30h1.87v1.87h-1.87zM488.80,33.17h3.73v1.87h-3.73zM486.94,35.04h1.87v1.87h-1.87zM490.67,35.04h1.87v1.87h-1.87zM490.67,36.90h1.87v1.87h-1.87zM490.67,38.77h1.87v1.87h-1.87zM490.67,40.64h1.87v1.87h-1.87zM490.67,42.51h1.87v1.87h-1.87zM490.67,44.37h1.87v1.87h-1.87zM490.67,46.24h1.87v1.87h-1.87zM486.94,48.11h9.34v1.87h-9.34zM501.88,25.70h20.54v1.87h-20.54zM511.21,27.57h1.87v1.87h-1.87zM511.21,29.43h1.87v1.87h-1.87zM511.21,31.30h1.87v1.87h-1.87zM511.21,33.17h1.87v1.87h-1.87zM498.14,35.04h28.01v1.87h-28.01zM511.21,36.90h1.87v1.87h-1.87zM509.34,38.77h1.87v1.87h-1.87zM513.08,38.77h1.87v1.87h-1.87zM509.34,40.64h1.87v1.87h-1.87zM513.08,40.64h1.87v1.87h-1.87zM507.48,42.51h1.87v1.87h-1.87zM514.95,42.51h1.87v1.87h-1.87zM507.48,44.37h1.87v1.87h-1.87zM514.95,44.37h1.87v1.87h-1.87zM505.61,46.24h1.87v1.87h-1.87zM516.81,46.24h1.87v1.87h-1.87zM503.74,48.11h1.87v1.87h-1.87zM518.68,48.11h1.87v1.87h-1.87zM501.88,49.98h1.87v1.87h-1.87zM520.55,49.98h1.87v1.87h-1.87zM498.14,51.84h3.73v1.87h-3.73zM522.42,51.84h3.73v1.87h-3.73zM533.62,46.24h3.73v1.87h-3.73zM535.49,48.11h1.87v1.87h-1.87zM535.49,49.98h1.87v1.87h-1.87zM533.62,51.84h1.87v1.87h-1.87zM561.63,31.30h7.47v1.87h-7.47zM559.77,33.17h1.87v1.87h-1.87zM569.10,33.17h1.87v1.87h-1.87zM559.77,35.04h1.87v1.87h-1.87zM569.10,35.04h1.87v1.87h-1.87zM559.77,36.90h1.87v1.87h-1.87zM569.10,36.90h1.87v1.87h-1.87zM559.77,38.77h1.87v1.87h-1.87zM569.10,38.77h1.87v1.87h-1.87zM559.77,40.64h1.87v1.87h-1.87zM569.10,40.64h1.87v1.87h-1.87zM559.77,42.51h1.87v1.87h-1.87zM569.10,42.51h1.87v1.87h-1.87zM559.77,44.37h1.87v1.87h-1.87zM569.10,44.37h1.87v1.87h-1.87zM559.77,46.24h1.87v1.87h-1.87zM569.10,46.24h1.87v1.87h-1.87zM561.63,48.11h7.47v1.87h-7.47zM574.71,31.30h1.87v1.87h-1.87zM584.04,31.30h1.87v1.87h-1.87zM574.71,33.17h1.87v1.87h-1.87zM582.18,33.17h1.87v1.87h-1.87zM574.71,35.04h1.87v1.87h-1.87zM580.31,35.04h1.87v1.87h-1.87zM574.71,36.90h1.87v1.87h-1.87zM578.44,36.90h1.87v1.87h-1.87zM574.71,38.77h3.73v1.87h-3.73zM574.71,40.64h3.73v1.87h-3.73zM574.71,42.51h1.87v1.87h-1.87zM578.44,42.51h1.87v1.87h-1.87zM574.71,44.37h1.87v1.87h-1.87zM580.31,44.37h1.87v1.87h-1.87zM574.71,46.24h1.87v1.87h-1.87zM582.18,46.24h1.87v1.87h-1.87zM574.71,48.11h1.87v1.87h-1.87zM584.04,48.11h1.87v1.87h-1.87zM589.65,31.30h11.21v1.87h-11.21zM589.65,33.17h1.87v1.87h-1.87zM589.65,35.04h1.87v1.87h-1.87zM589.65,36.90h1.87v1.87h-1.87zM589.65,38.77h9.34v1.87h-9.34zM589.65,40.64h1.87v1.87h-1.87zM589.65,42.51h1.87v1.87h-1.87zM589.65,44.37h1.87v1.87h-1.87zM589.65,46.24h1.87v1.87h-1.87zM589.65,48.11h11.21v1.87h-11.21zM604.59,31.30h1.87v1.87h-1.87zM613.92,31.30h1.87v1.87h-1.87zM604.59,33.17h1.87v1.87h-1.87zM613.92,33.17h1.87v1.87h-1.87zM606.45,35.04h1.87v1.87h-1.87zM612.06,35.04h1.87v1.87h-1.87zM606.45,36.90h1.87v1.87h-1.87zM612.06,36.90h1.87v1.87h-1.87zM608.32,38.77h3.73v1.87h-3.73zM608.32,40.64h3.73v1.87h-3.73zM606.45,42.51h1.87v1.87h-1.87zM612.06,42.51h1.87v1.87h-1.87zM606.45,44.37h1.87v1.87h-1.87zM612.06,44.37h1.87v1.87h-1.87zM604.59,46.24h1.87v1.87h-1.87zM613.92,46.24h1.87v1.87h-1.87zM604.59,48.11h1.87v1.87h-1.87zM613.92,48.11h1.87v1.87h-1.87z" fill="#d3d3d3"/>
<rect x="0" y="0" width="1" height="1096" fill="#1e222d"/>
<rect x="1" y="0" width="2" height="1096" fill="#7a7a7a"/>
<rect x="0" y="0" width="1922" height="2" fill="#7a7a7a"/>
<rect x="0" y="1095" width="1922" height="1" fill="#7a7a7a"/>
</svg></body></html>
